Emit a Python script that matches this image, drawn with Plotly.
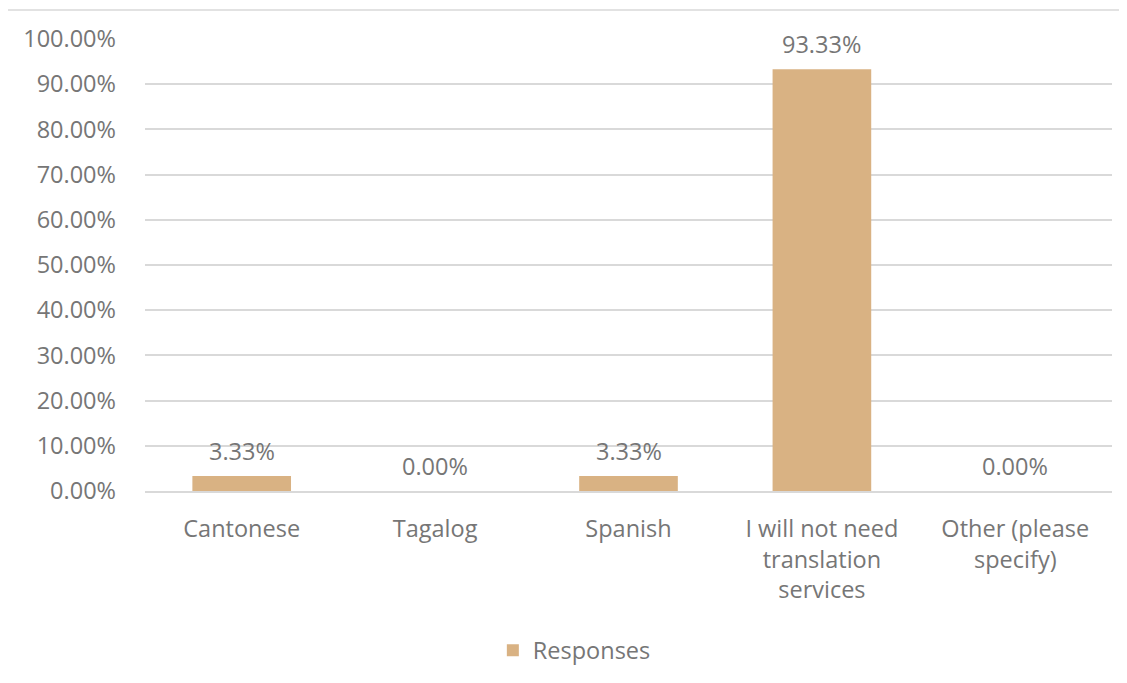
import plotly.graph_objects as go

categories = ["Cantonese", "Tagalog", "Spanish",
              "I will not need<br>translation<br>services",
              "Other (please<br>specify)"]
values = [3.33, 0.00, 3.33, 93.33, 0.00]
series_name = "Responses"
tick_vals = [0, 10, 20, 30, 40, 50, 60, 70, 80, 90, 100]
tick_text = ["0.00%", "10.00%", "20.00%", "30.00%", "40.00%", "50.00%",
             "60.00%", "70.00%", "80.00%", "90.00%", "100.00%"]
title_text = "If you were to apply, what language would be your preference?"

BAR = "#D9B283"
TXT = "#767676"
GRID = "#D9D9D9"
FONT = "Open Sans"
FS = 23.5

fig = go.Figure()
fig.add_trace(go.Bar(
    x=categories, y=values, name=series_name,
    marker=dict(color=BAR, line=dict(width=0)),
    showlegend=True,
))

for c, v in zip(categories, values):
    fig.add_annotation(x=c, y=v, xref="x", yref="y", text=f"{v:.2f}%",
                       showarrow=False, yanchor="bottom", yshift=7,
                       font=dict(family=FONT, size=FS, color=TXT))

# title, clipped at the top edge as in the reference
fig.add_annotation(x=-0.02, y=1.0, xref="paper", yref="paper",
                   xanchor="left", yanchor="bottom", yshift=28,
                   text=f"<b>{title_text}</b>", showarrow=False,
                   font=dict(family=FONT, size=22, color="#000000"))

# chart border
fig.add_shape(type="rect", xref="paper", yref="paper",
              x0=-0.1437, x1=1.05, y0=-0.6, y1=1.064,
              line=dict(color=GRID, width=1.5), fillcolor="rgba(0,0,0,0)",
              layer="below")

fig.update_layout(
    width=1119, height=675,
    margin=dict(l=137, r=15, t=31, b=191),
    paper_bgcolor="white", plot_bgcolor="white",
    font=dict(family=FONT, size=FS, color=TXT),
    bargap=0.49,
    legend=dict(orientation="h", x=0.444, xanchor="center",
                y=-0.35, yanchor="middle",
                font=dict(family=FONT, size=FS, color=TXT)),
    xaxis=dict(showgrid=False, showline=True, linecolor=GRID, linewidth=1.5,
               ticks="", tickfont=dict(family=FONT, size=FS, color=TXT),
               ticklabelstandoff=16, fixedrange=True),
    yaxis=dict(range=[0, 100], tickvals=tick_vals, ticktext=tick_text,
               showgrid=True, gridcolor=GRID, gridwidth=1.5,
               zeroline=False, showline=False, ticks="",
               tickfont=dict(family=FONT, size=FS, color=TXT),
               ticklabelstandoff=28, fixedrange=True),
)

fig.write_html("out.html")
